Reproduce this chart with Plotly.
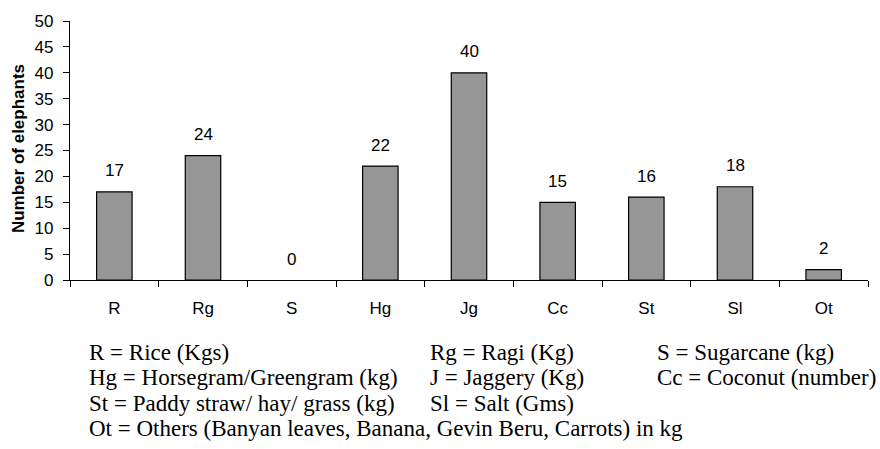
import plotly.graph_objects as go

categories = ["R", "Rg", "S", "Hg", "Jg", "Cc", "St", "Sl", "Ot"]
elephants = [17, 24, 0, 22, 40, 15, 16, 18, 2]
y_ticks = [0, 5, 10, 15, 20, 25, 30, 35, 40, 45, 50]
legend_rows = [
    ["R = Rice (Kgs)", "Rg = Ragi (Kg)", "S = Sugarcane (kg)"],
    ["Hg = Horsegram/Greengram (kg)", "J = Jaggery (Kg)", "Cc = Coconut (number)"],
    ["St = Paddy straw/ hay/ grass (kg)", "Sl = Salt (Gms)", ""],
    ["Ot = Others (Banyan leaves, Banana, Gevin Beru, Carrots) in kg", "", ""],
]

W, H = 880, 449
L, R, T, B = 70, 12, 13, 169
pw, ph = W - L - R, H - T - B


def px(x):
    return (x - L) / pw


def py(y):
    return (H - B - y) / ph


SANS = "Liberation Sans, Arial"
SERIF = "Liberation Serif, Times New Roman"

fig = go.Figure()
fig.add_trace(go.Bar(
    x=categories, y=elephants,
    marker=dict(color="#969696",
                line=dict(color="black", width=[0 if v == 0 else 1.2 for v in elephants])),
    showlegend=False, hoverinfo="x+y",
))

annotations = []
for c, v in zip(categories, elephants):
    annotations.append(dict(x=c, y=v, text=str(v), showarrow=False, xref="x", yref="y",
                            yanchor="middle", yshift=21,
                            font=dict(family=SANS, size=17, color="black")))

col_x = [88, 429, 656]
row_y = [355, 381, 407, 433]
for ri, row in enumerate(legend_rows):
    for ci, txt in enumerate(row):
        if not txt:
            continue
        annotations.append(dict(x=px(col_x[ci]), y=py(row_y[ri]), xref="paper", yref="paper",
                                text=txt, showarrow=False, xanchor="left", yanchor="middle",
                                borderpad=0,
                                font=dict(family=SERIF, size=23, color="black")))

annotations.append(dict(x=px(18), y=py(145), xref="paper", yref="paper", text="<b>Number of elephants</b>",
                        textangle=-90, showarrow=False, xanchor="center", yanchor="middle",
                        font=dict(family=SANS, size=17, color="black")))

fig.update_layout(
    width=W, height=H,
    margin=dict(l=L, r=R, t=T, b=B),
    plot_bgcolor="white", paper_bgcolor="white",
    bargap=0.6,
    annotations=annotations,
    xaxis=dict(showline=True, linecolor="black", linewidth=1.2, ticks="outside", ticklen=6,
               tickcolor="black", tickson="boundaries", showgrid=False, ticklabelstandoff=12,
               tickfont=dict(family=SANS, size=17, color="black")),
    yaxis=dict(range=[0, 50], tickvals=y_ticks, showline=True, linecolor="black", linewidth=1.2,
               ticks="outside", ticklen=6, tickcolor="black", showgrid=False, zeroline=False,
               ticklabelstandoff=6,
               tickfont=dict(family=SANS, size=17, color="black")),
)

fig.write_html("out.html", config={"displayModeBar": False},
               post_script="document.body.style.margin='0';document.body.style.overflow='hidden';")
